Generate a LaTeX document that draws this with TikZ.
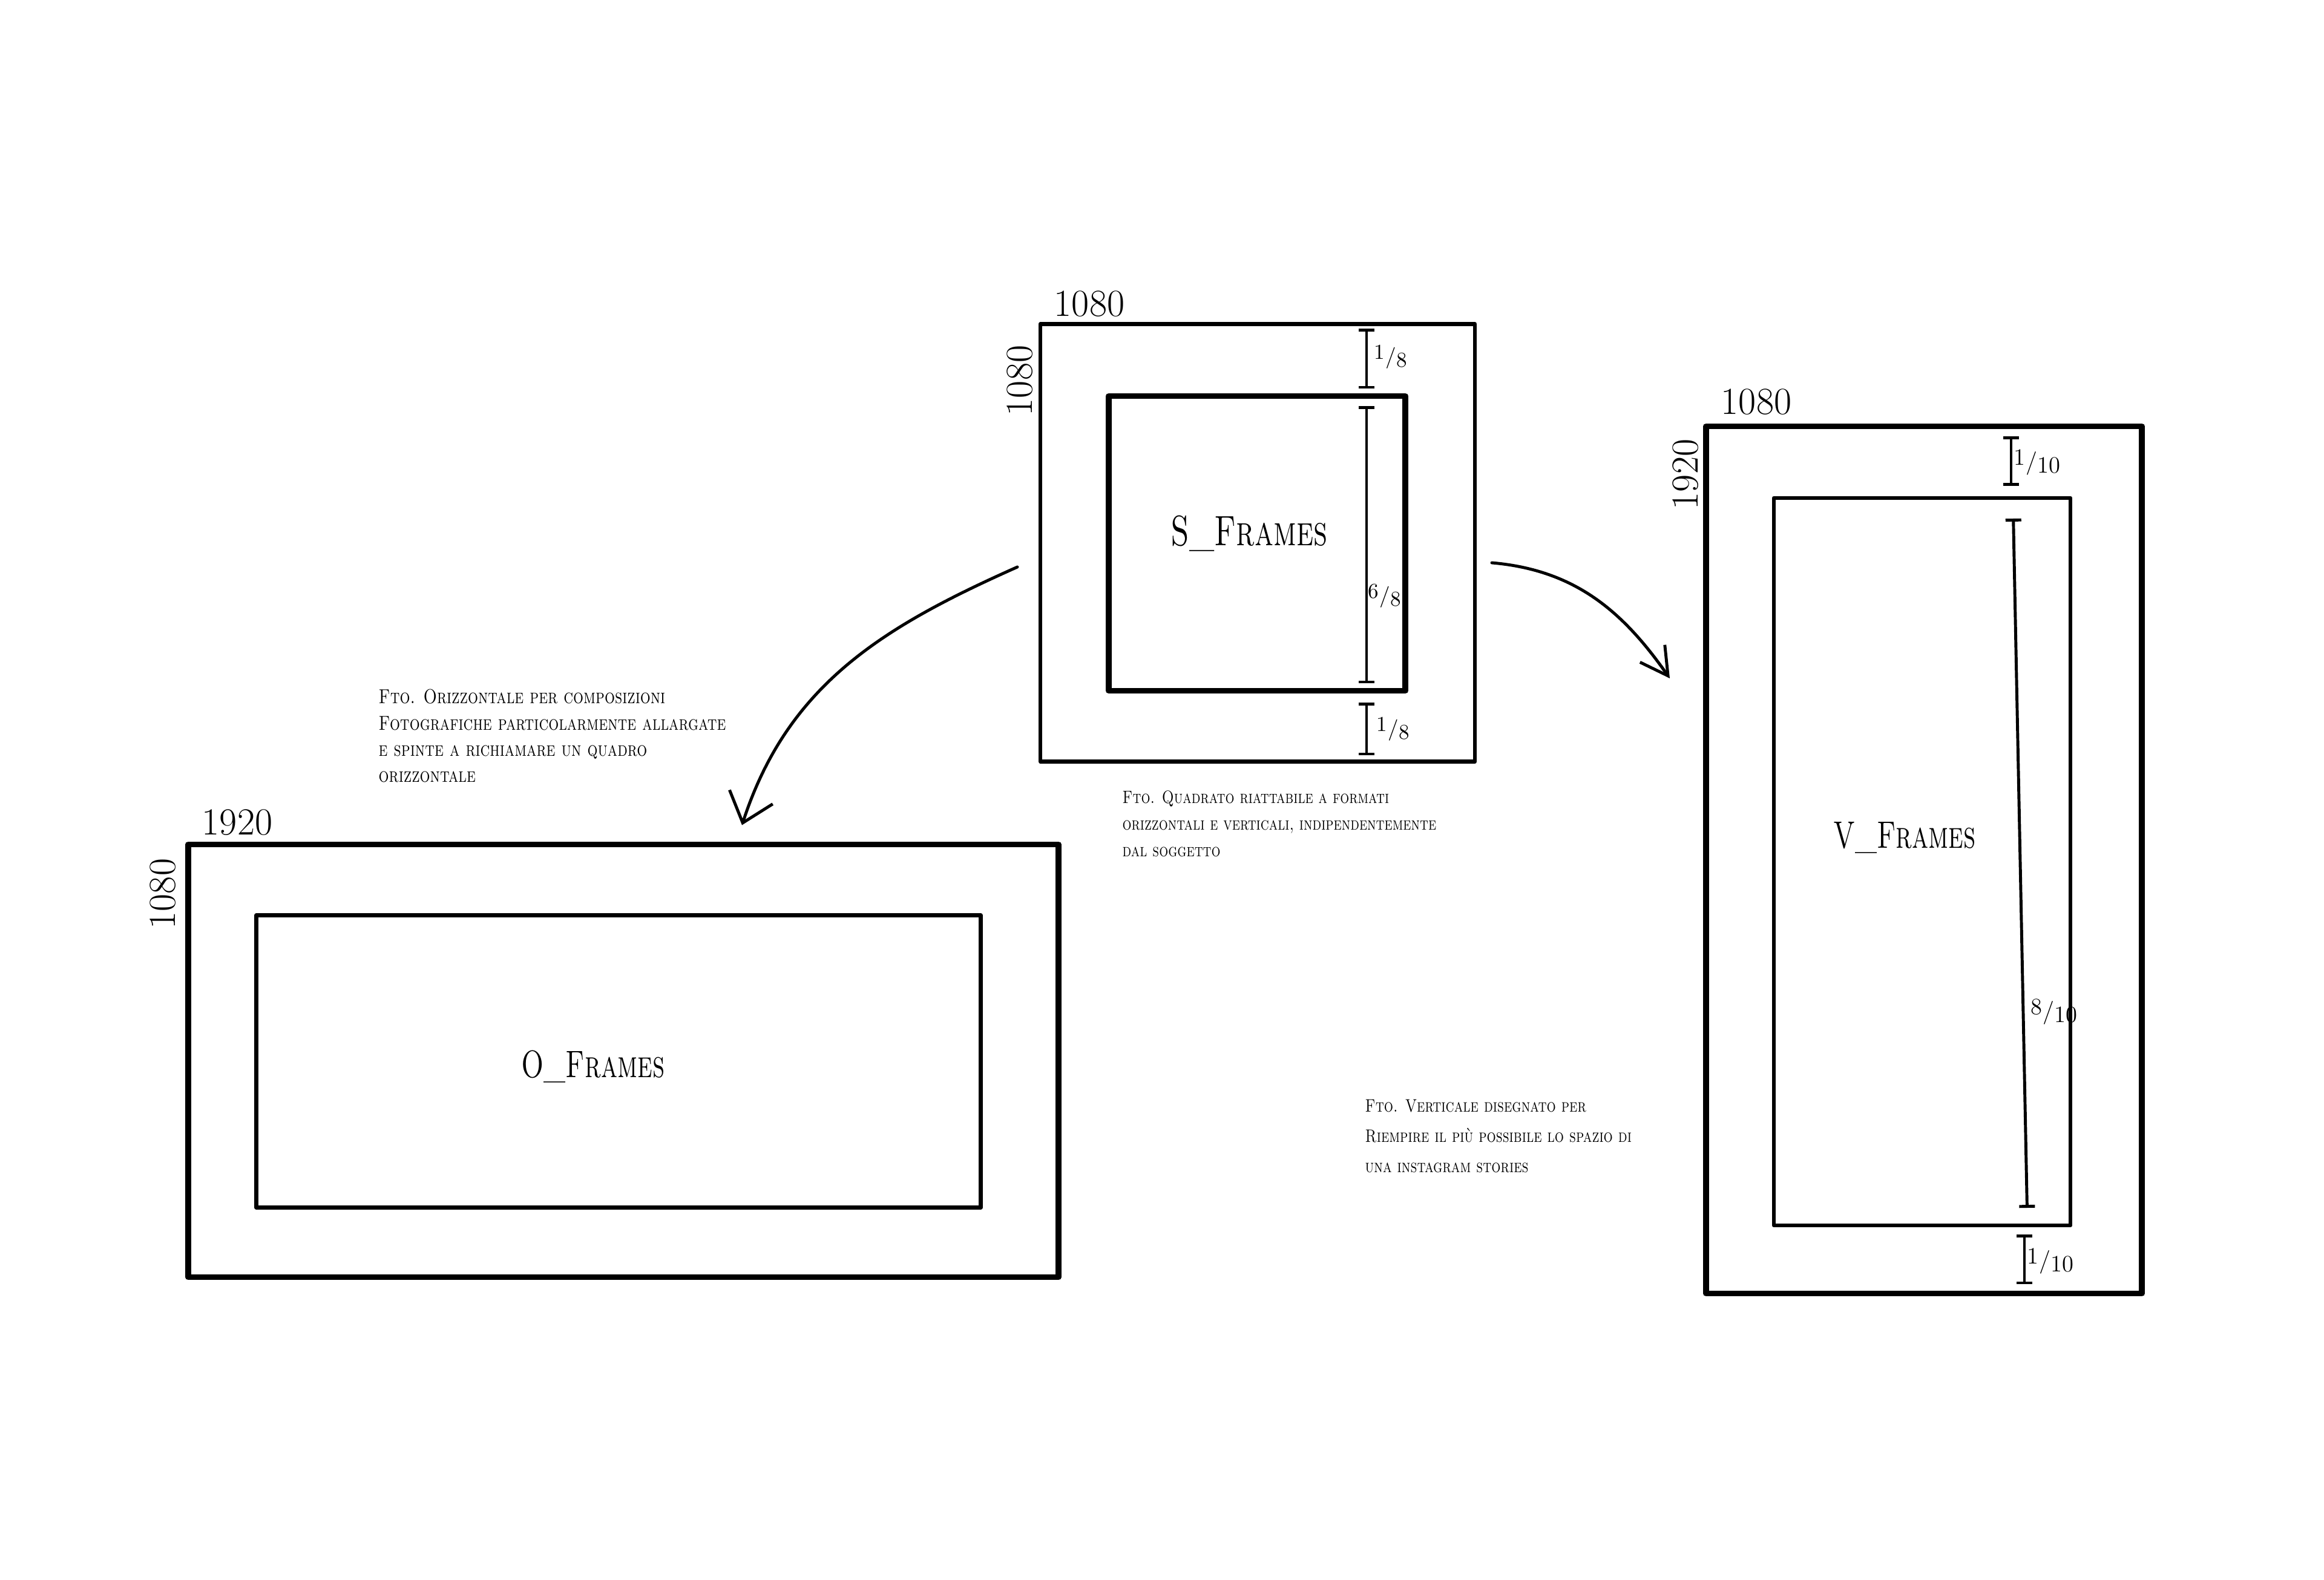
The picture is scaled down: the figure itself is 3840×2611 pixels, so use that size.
\documentclass[tikz,border=0pt]{standalone}
\usepackage{fontspec}
\usepackage{graphicx}
\usetikzlibrary{arrows.meta}
\newcommand\hfr[2]{\raisebox{0.45ex}{#1}\kern0.02em/\kern0.02em\raisebox{-0.35ex}{#2}}
\newcommand\cond[2]{\scalebox{#1}[1]{#2}}
\newcommand\notelines[1]{\begin{tabular}{@{}l@{}}#1\end{tabular}}
\begin{document}
\begin{tikzpicture}[x=0.1mm,y=-0.1mm,
  thick frame/.style={draw, line width=2.8pt, line join=round, inner sep=0pt, outer sep=0pt},
  thin frame/.style={draw, line width=1.9pt, line join=round, inner sep=0pt, outer sep=0pt},
  big label/.style={font=\fontsize{#1}{22}\selectfont\scshape, inner sep=0pt},
  num label/.style={font=\fontsize{18}{20}\selectfont, inner sep=0pt},
  frac label/.style={font=\fontsize{#1}{12}\selectfont, inner sep=0pt},
  frac label/.default=11,
  note/.style 2 args={font=\fontsize{#1}{#2}\selectfont\scshape, anchor=north west, inner sep=0pt},
  conn/.style={line width=1.4pt, line cap=round},
  dimbar/.style={line width=1.4pt, {Bar[width=2.6mm,line width=1.4pt]}-{Bar[width=2.6mm,line width=1.4pt]}}
]
\useasboundingbox (0,0) rectangle (3840,2611);
\fill[white] (0,0) rectangle (3840,2611);

% ---------- S frame ----------
\node[thin frame, minimum width=71.8mm, minimum height=72.3mm] (Sout) at (2078,897) {};
\node[thick frame, minimum width=49.0mm, minimum height=48.7mm] (Sin) at (2077,898) {};
\node[big label=20] (Slbl) at (2064,882) {\cond{0.72}{S\_Frames}};
\node[num label] (Stop) at (1800,502) {1080};
\node[num label, rotate=90] (Sside) at (1685,629) {1080};
\coordinate (sx) at (2258,0);
\draw[dimbar, shorten <=0.8mm, shorten >=1.2mm] (sx |- Sout.north) -- (sx |- Sin.north);
\draw[dimbar, shorten <=1.7mm, shorten >=1.2mm] (sx |- Sin.north) -- (sx |- Sin.south);
\draw[dimbar, shorten <=2.0mm, shorten >=1.0mm] (sx |- Sin.south) -- (sx |- Sout.south);
\node[frac label=10] (Sf1) at (2298,590) {\hfr{1}{8}};
\node[frac label=10] (Sf2) at (2288,985) {\hfr{6}{8}};
\node[frac label=10] (Sf3) at (2302,1205) {\hfr{1}{8}};

% ---------- O frame ----------
\node[thick frame, minimum width=143.8mm, minimum height=71.5mm] (Oout) at (1030,1753) {};
\node[thin frame, minimum width=119.7mm, minimum height=48.3mm] (Oin) at (1022,1754) {};
\node[big label=18] (Olbl) at (980,1763) {\cond{0.7}{O\_Frames}};
\node[num label] (Otop) at (392,1359) {1920};
\node[num label, rotate=90] (Oside) at (269,1477) {1080};

% ---------- V frame ----------
\node[thick frame, minimum width=72.0mm, minimum height=143.3mm] (Vout) at (3179,1421) {};
\node[thin frame, minimum width=49.0mm, minimum height=120.2mm] (Vin) at (3176,1424) {};
\node[big label=18] (Vlbl) at (3147,1384) {\cond{0.7}{V\_Frames}};
\node[num label] (Vtop) at (2902,664) {1080};
\node[num label, rotate=90] (Vside) at (2785,784) {1920};
\coordinate (vx1) at (3323,0);
\coordinate (vx2) at (3345,0);
\draw[dimbar, shorten <=1.7mm, shorten >=2.0mm] (vx1 |- Vout.north) -- (vx1 |- Vin.north);
\draw[dimbar, shorten <=3.4mm, shorten >=2.9mm] (3326,0 |- Vin.north) -- (3350,0 |- Vin.south);
\draw[dimbar, shorten <=1.5mm, shorten >=1.5mm] (vx2 |- Vin.south) -- (vx2 |- Vout.south);
\node[frac label] (Vf1) at (3366,764) {\hfr{1}{10}};
\node[frac label] (Vf2) at (3394,1672) {\hfr{8}{10}};
\node[frac label] (Vf3) at (3388,2084) {\hfr{1}{10}};

% ---------- connectors ----------
\draw[conn, -{Straight Barb[length=4.5mm,width=7.5mm,line width=1.4pt]}]
  ([xshift=-3.8mm,yshift=-4.0mm]Sout.west) to[out=204,in=72] ([xshift=19.6mm,yshift=3.2mm]Oout.north);
\draw[conn, -{Straight Barb[length=4.5mm,width=5mm,line width=1.4pt]}]
  ([xshift=2.8mm,yshift=-3.3mm]Sout.east) to[out=-5,in=125] ([xshift=-6.0mm,yshift=30.0mm]Vout.west);

% ---------- notes ----------
\node[note={9.5}{12.3}] (Onote) at (625,1132) {\cond{0.8}{\notelines{Fto. Orizzontale per composizioni\\Fotografiche particolarmente allargate\\e spinte a richiamare un quadro\\orizzontale}}};
\node[note={8.4}{12.5}] (Snote) at (1854,1296) {\cond{0.8}{\notelines{Fto. Quadrato riattabile a formati\\orizzontali e verticali, indipendentemente\\dal soggetto}}};
\node[note={8.5}{14.2}] (Vnote) at (2255,1802) {\cond{0.8}{\notelines{Fto. Verticale disegnato per\\Riempire il più possibile lo spazio di\\una instagram stories}}};
\end{tikzpicture}
\end{document}
